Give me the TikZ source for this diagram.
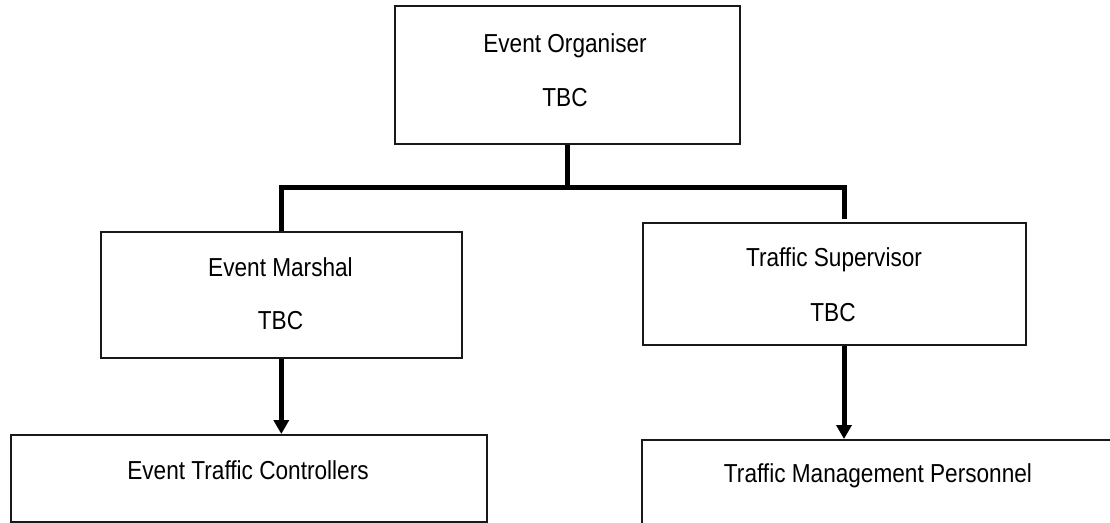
\documentclass[tikz,border=0pt]{standalone}
\usepackage{fontspec}
\setmainfont{Liberation Sans}[FakeStretch=0.87]
\usetikzlibrary{arrows.meta}
\begin{document}
\begin{tikzpicture}[x=1pt,y=-1pt,
  box/.style={draw=black!90, line width=1.6pt, rectangle, inner sep=0pt, anchor=north west},
  txt/.style={font=\fontsize{26}{30}\selectfont, inner sep=0pt, anchor=base},
  link/.style={line width=5pt, line join=miter},
  arr/.style={line width=5pt, -{Triangle[width=15pt,length=14pt]}}]
\path[use as bounding box, clip] (0,0) rectangle (1110,522);
% boxes
\node[box, minimum width=345pt, minimum height=138pt] (org) at (394,5) {};
\node[box, minimum width=361pt, minimum height=126pt] (marshal) at (100,231) {};
\node[box, minimum width=383pt, minimum height=122pt] (sup) at (642,222) {};
\node[box, minimum width=476pt, minimum height=87pt] (etc) at (10,434) {};
\node[box, minimum width=490pt, minimum height=120pt] (tmp) at (641,439) {};
% texts
\node[txt] (orgA) at (565,52) {Event Organiser};
\node[txt] (orgB) at (565,106) {TBC};
\node[txt] (marA) at (280.5,276) {Event Marshal};
\node[txt] (marB) at (280.5,329) {TBC};
\node[txt] (supA) at (834,266) {Traffic Supervisor};
\node[txt] (supB) at (833,321) {TBC};
\node[txt] (etcA) at (248,479) {Event Traffic Controllers};
\node[txt] (tmpA) at (878,482) {Traffic Management Personnel};
% connectors
\coordinate (supdrop) at (844,219);
\draw[link] (org.south) -- ++(0,43) coordinate (hub);
\draw[link] (marshal.north) -- (marshal.north |- hub) -- (supdrop |- hub) -- (supdrop);
\draw[arr] (marshal.south) -- (marshal.south |- etc.north);
\draw[arr] (supdrop |- sup.south) -- (supdrop |- tmp.north);
\end{tikzpicture}
\end{document}
